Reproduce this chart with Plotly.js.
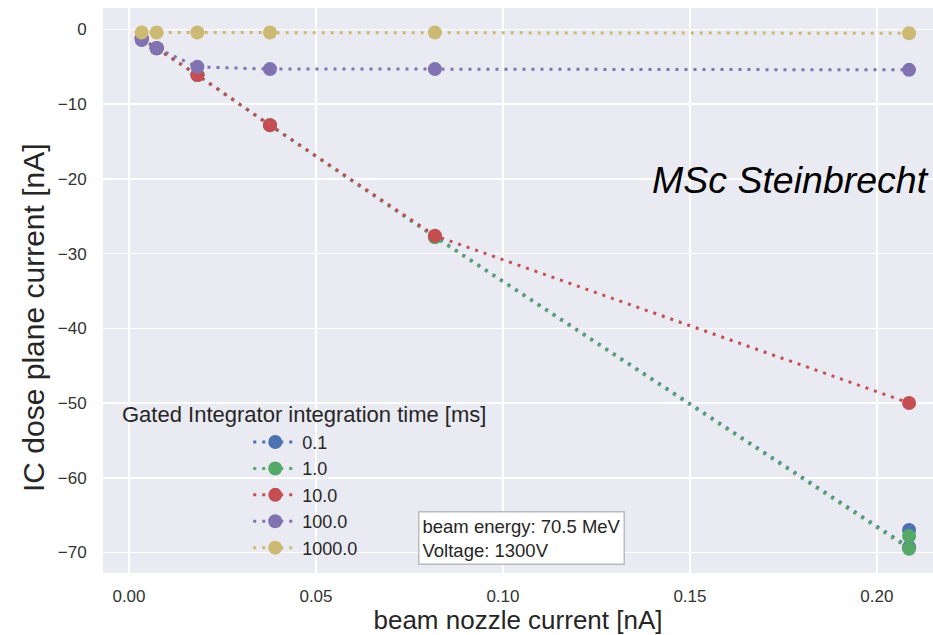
<!DOCTYPE html>
<html>
<head>
<meta charset="utf-8">
<script src="https://cdn.plot.ly/plotly-3.0.1.min.js"></script>
<style>html,body{margin:0;padding:0;background:#fff;}#chart{width:933px;height:635px;}</style>
</head>
<body>
<div id="chart"></div>
<script>
// beam nozzle current [nA]
const nozzleCurrent = [0.0034, 0.0074, 0.0183, 0.0377, 0.0818, 0.2086];
const nozzleCurrentLast2 = [0.0034, 0.0074, 0.0183, 0.0377, 0.0818, 0.2086, 0.2086];
// IC dose plane current [nA] per integration time [ms]
const seriesNames = ["0.1", "1.0", "10.0", "100.0", "1000.0"];
const ic_0_1 = [-1.2, -2.5, -6.1, -12.8, -27.7, -69.3, -67.0];
const ic_1_0 = [-1.2, -2.5, -6.1, -12.8, -27.8, -69.5, -67.8];
const ic_10_0 = [-1.2, -2.5, -6.1, -12.8, -27.6, -50.0];
const ic_100_0 = [-1.4, -2.5, -5.0, -5.3, -5.3, -5.4];
const ic_1000_0 = [-0.4, -0.4, -0.4, -0.4, -0.4, -0.5];
const xTickVals = [0.00, 0.05, 0.10, 0.15, 0.20];
const yTickVals = [0, -10, -20, -30, -40, -50, -60, -70];

const colors = ["#4C72B0", "#55A868", "#C44E52", "#8172B2", "#CCB974"];
const xs = [nozzleCurrentLast2, nozzleCurrentLast2, nozzleCurrent, nozzleCurrent, nozzleCurrent];
const ys = [ic_0_1, ic_1_0, ic_10_0, ic_100_0, ic_1000_0];
const FONT = "Liberation Sans, Arial, sans-serif";

const traces = seriesNames.map((n, i) => ({
  type: "scatter",
  mode: "lines+markers",
  name: n,
  legendgroup: "g" + i,
  x: xs[i],
  y: ys[i],
  line: {color: colors[i], width: 3, dash: "3px,6px"},
  marker: {color: colors[i], size: 14}
}));

const layout = {
  width: 933, height: 635,
  margin: {l: 103, r: 0, t: 8, b: 62},
  paper_bgcolor: "#ffffff",
  plot_bgcolor: "#EAEAF2",
  font: {family: FONT, color: "#262626"},
  showlegend: true,
  legend: {
    x: 0.175, xanchor: "left",
    y: 0.264, yanchor: "top",
    bgcolor: "rgba(0,0,0,0)",
    borderwidth: 0,
    tracegroupgap: 0,
    itemwidth: 44,
    font: {family: FONT, size: 18, color: "#262626"}
  },
  xaxis: {
    range: [-0.00695, 0.2150],
    tickvals: xTickVals,
    tickformat: ".2f",
    showgrid: true, gridcolor: "#ffffff", gridwidth: 1.5,
    zeroline: false, showline: false,
    ticks: "outside", ticklen: 8, tickcolor: "rgba(0,0,0,0)",
    tickfont: {family: FONT, size: 17, color: "#333333"},
    title: {text: "beam nozzle current [nA]", font: {family: FONT, size: 26, color: "#262626"}, standoff: 5}
  },
  yaxis: {
    range: [-72.75, 2.88],
    tickvals: yTickVals,
    showgrid: true, gridcolor: "#ffffff", gridwidth: 1.5,
    zeroline: false, showline: false,
    ticks: "outside", ticklen: 12, tickcolor: "rgba(0,0,0,0)",
    tickfont: {family: FONT, size: 17, color: "#333333"}
  },
  annotations: [
    {
      text: "IC dose plane current [nA]",
      xref: "paper", yref: "paper",
      x: (33 - 103) / 830, xanchor: "center",
      y: (573 - 318) / 565, yanchor: "middle",
      textangle: -90,
      showarrow: false,
      font: {family: FONT, size: 30, color: "#262626"}
    },
    {
      text: "Gated Integrator integration time [ms]",
      xref: "paper", yref: "paper",
      x: (120 - 103) / 830, xanchor: "left",
      y: (573 - 414) / 565, yanchor: "middle",
      showarrow: false,
      font: {family: FONT, size: 22, color: "#262626"}
    },
    {
      text: "MSc Steinbrecht",
      xref: "paper", yref: "paper",
      x: (650 - 103) / 830, xanchor: "left",
      y: (573 - 180) / 565, yanchor: "middle",
      showarrow: false,
      font: {family: FONT, size: 37.5, color: "#000000", style: "italic"}
    },
    {
      text: "beam energy: 70.5 MeV<br>Voltage: 1300V",
      xref: "paper", yref: "paper",
      x: (418 - 103) / 830, xanchor: "left",
      y: (573 - 511) / 565, yanchor: "top",
      align: "left",
      showarrow: false,
      bgcolor: "#ffffff",
      bordercolor: "#bbbbbb",
      borderwidth: 1.5,
      borderpad: 3,
      font: {family: FONT, size: 18.5, color: "#262626"}
    }
  ]
};

Plotly.newPlot("chart", traces, layout, {displayModeBar: false, staticPlot: true});
</script>
</body>
</html>
